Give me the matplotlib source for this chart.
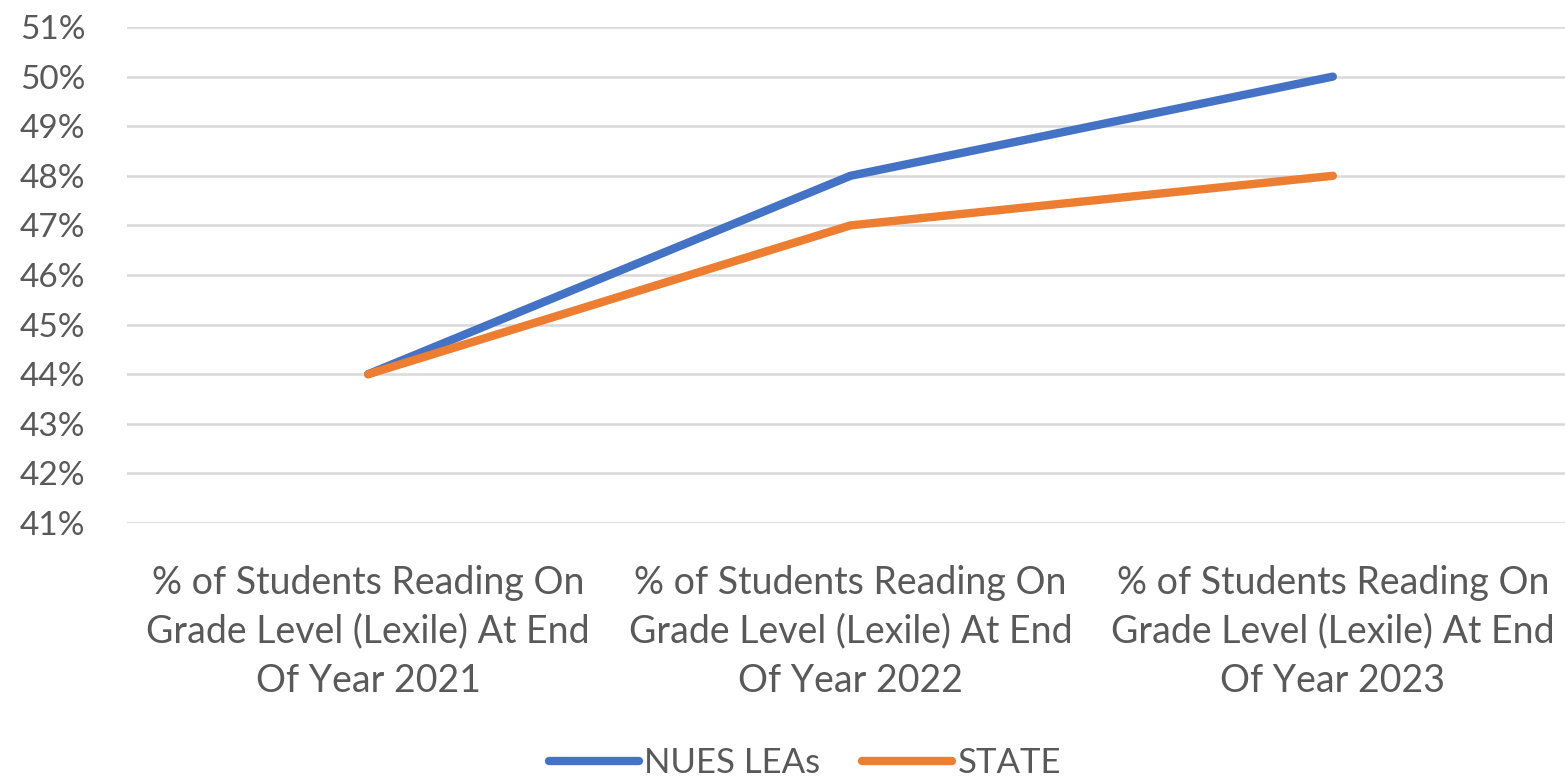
import matplotlib.pyplot as plt
from matplotlib.ticker import FuncFormatter

categories = [
    "% of Students Reading On\nGrade Level (Lexile) At End\nOf Year 2021",
    "% of Students Reading On\nGrade Level (Lexile) At End\nOf Year 2022",
    "% of Students Reading On\nGrade Level (Lexile) At End\nOf Year 2023",
]
nues_leas = [44, 48, 50]
state = [44, 47, 48]
y_ticks = list(range(41, 52))

plt.rcParams['font.family'] = ['Lato', 'DejaVu Sans']

fig = plt.figure(figsize=(15.65, 7.8), dpi=100)
W, H = 1565, 780
left, right = 127, 1574
top, bottom = 27, 523
ax = fig.add_axes([left / W, 1 - bottom / H, (right - left) / W, (bottom - top) / H])

x = range(len(categories))
ax.plot(x, nues_leas, color='#4472C4', linewidth=6, solid_capstyle='round', label='NUES LEAs', zorder=3)
ax.plot(x, state, color='#ED7D31', linewidth=6, solid_capstyle='round', label='STATE', zorder=3)

ax.set_xlim(-0.5, 2.5)
ax.set_ylim(41, 51)
ax.set_yticks(y_ticks)
ax.yaxis.set_major_formatter(FuncFormatter(lambda v, p: f"{v:.0f}%"))
ax.set_xticks(list(x))
ax.set_xticklabels(categories, linespacing=1.45, fontsize=27)

ax.grid(axis='y', color='#D9D9D9', linewidth=1.8)
ax.set_axisbelow(True)
for s in ax.spines.values():
    s.set_visible(False)
ax.tick_params(axis='both', length=0, colors='#595959')
ax.tick_params(axis='y', pad=30, labelsize=24)
ax.tick_params(axis='x', pad=30)

leg = fig.legend(loc='center', bbox_to_anchor=(805 / W, 1 - 763 / H), ncol=2, frameon=False,
                 fontsize=25, handlelength=2.6, handletextpad=0.15, columnspacing=1.2)
for t in leg.get_texts():
    t.set_color('#595959')

fig.savefig('out.png', dpi=100)
